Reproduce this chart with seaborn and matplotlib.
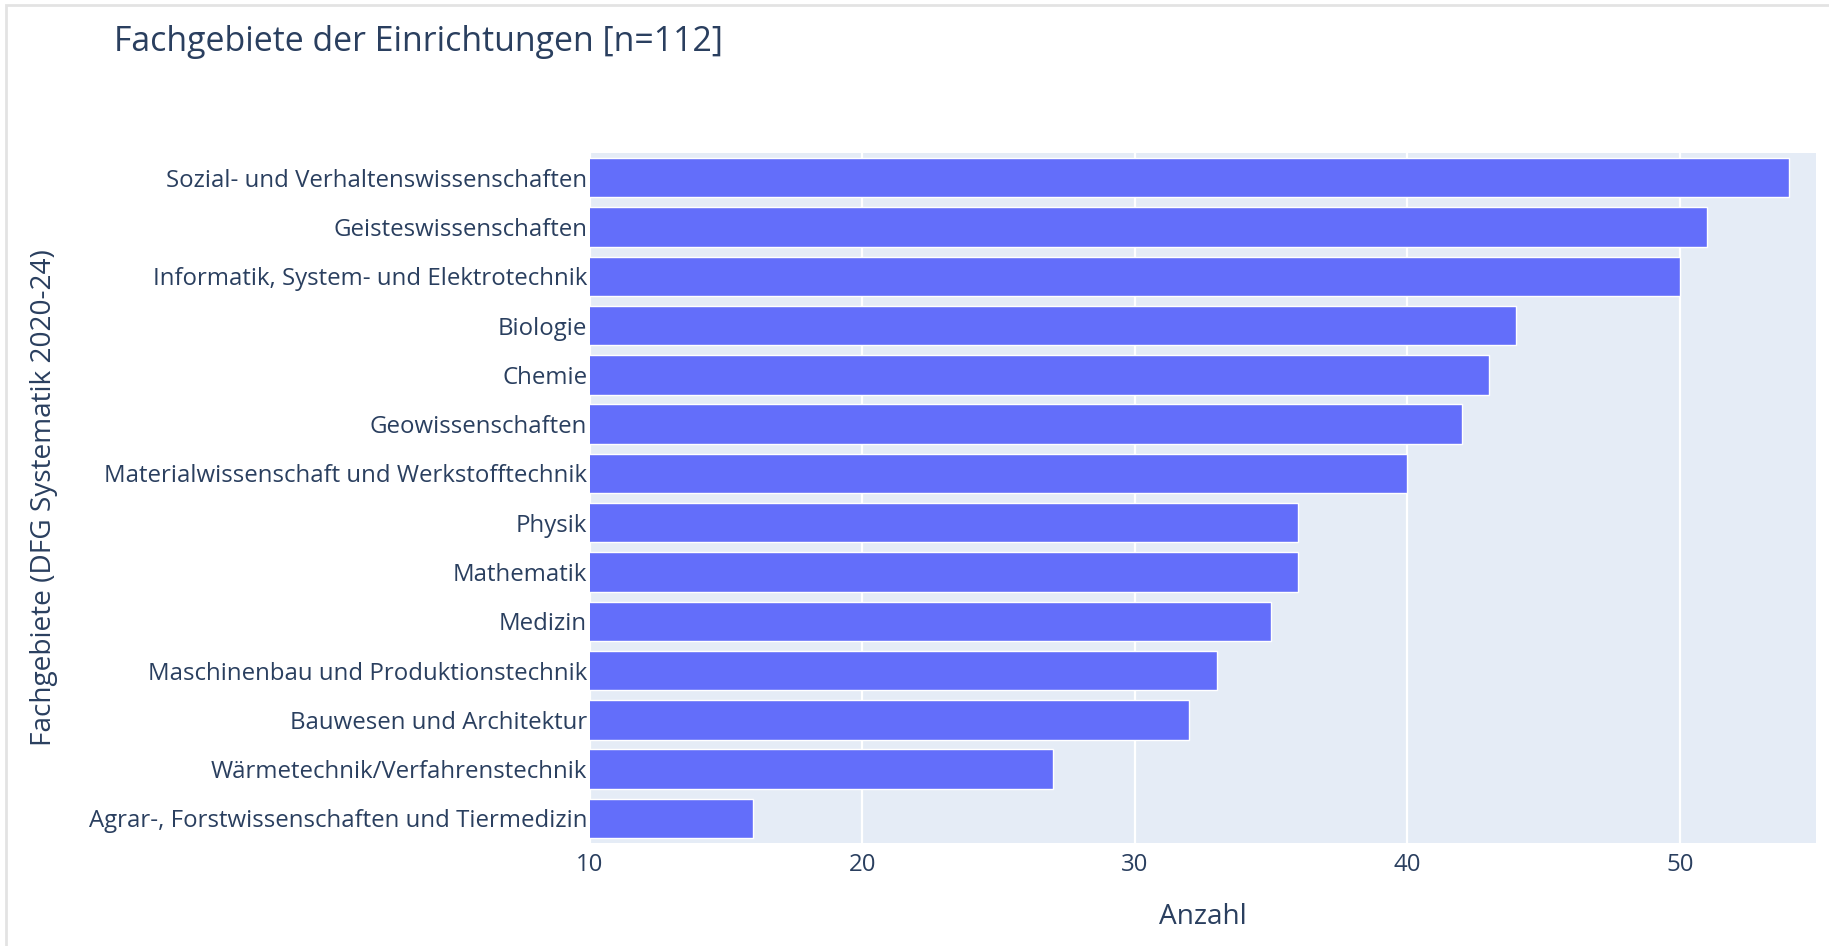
import matplotlib
matplotlib.use("Agg")
import matplotlib.pyplot as plt
import seaborn as sns
from matplotlib.patches import Rectangle

categories = [
    "Sozial- und Verhaltenswissenschaften",
    "Geisteswissenschaften",
    "Informatik, System- und Elektrotechnik",
    "Biologie",
    "Chemie",
    "Geowissenschaften",
    "Materialwissenschaft und Werkstofftechnik",
    "Physik",
    "Mathematik",
    "Medizin",
    "Maschinenbau und Produktionstechnik",
    "Bauwesen und Architektur",
    "Wärmetechnik/Verfahrenstechnik",
    "Agrar-, Forstwissenschaften und Tiermedizin",
]
values = [54, 51, 50, 44, 43, 42, 40, 36, 36, 35, 33, 32, 27, 16]
x_ticks = [10, 20, 30, 40, 50]
x_range = [10, 55]

title = "Fachgebiete der Einrichtungen [n=112]"
x_label = "Anzahl"
y_label = "Fachgebiete (DFG Systematik 2020-24)"

sns.set_theme(style="white")
plt.rcParams["font.family"] = ["Open Sans", "DejaVu Sans"]

TEXT = "#2a3f5f"
BAR = "#636efa"
BG = "#e5ecf6"

W, H = 1829, 946
fig = plt.figure(figsize=(W / 100, H / 100), dpi=100)
left, right, top, bottom = 590, 1816, 153, 843
ax = fig.add_axes([left / W, 1 - bottom / H, (right - left) / W, (bottom - top) / H])
ax.set_facecolor(BG)

sns.barplot(x=values, y=categories, orient="h", color=BAR, saturation=1,
            width=0.8, ax=ax, zorder=3)

ax.set_xlim(*x_range)
ax.set_xticks(x_ticks)
ax.set_xticklabels([str(t) for t in x_ticks])
ax.grid(axis="x", color="white", linewidth=1.6, zorder=1)
ax.grid(axis="y", visible=False)
ax.set_axisbelow(True)
for s in ax.spines.values():
    s.set_visible(False)
ax.tick_params(axis="both", length=0, labelsize=17.3, labelcolor=TEXT)
ax.tick_params(axis="y", pad=2)
ax.tick_params(axis="x", pad=7)
ax.set_xlabel("")
ax.set_ylabel("")

fig.text(1203 / W, 1 - 917 / H, x_label, ha="center", va="center", fontsize=20.2, color=TEXT)
fig.text(44 / W, 1 - ((top + bottom) / 2) / H, y_label, ha="center", va="center",
         rotation=90, fontsize=20.2, color=TEXT)
fig.text(114 / W, 1 - 42 / H, title, ha="left", va="center", fontsize=24.4, color=TEXT)

# subtle card border
fig.patches.append(Rectangle((6 / W, -0.01), 1.2, 1 - 5 / H + 0.01, transform=fig.transFigure,
                             fill=False, edgecolor="#e3e3e3", linewidth=2))

fig.savefig("out.png", dpi=100, facecolor="white")
